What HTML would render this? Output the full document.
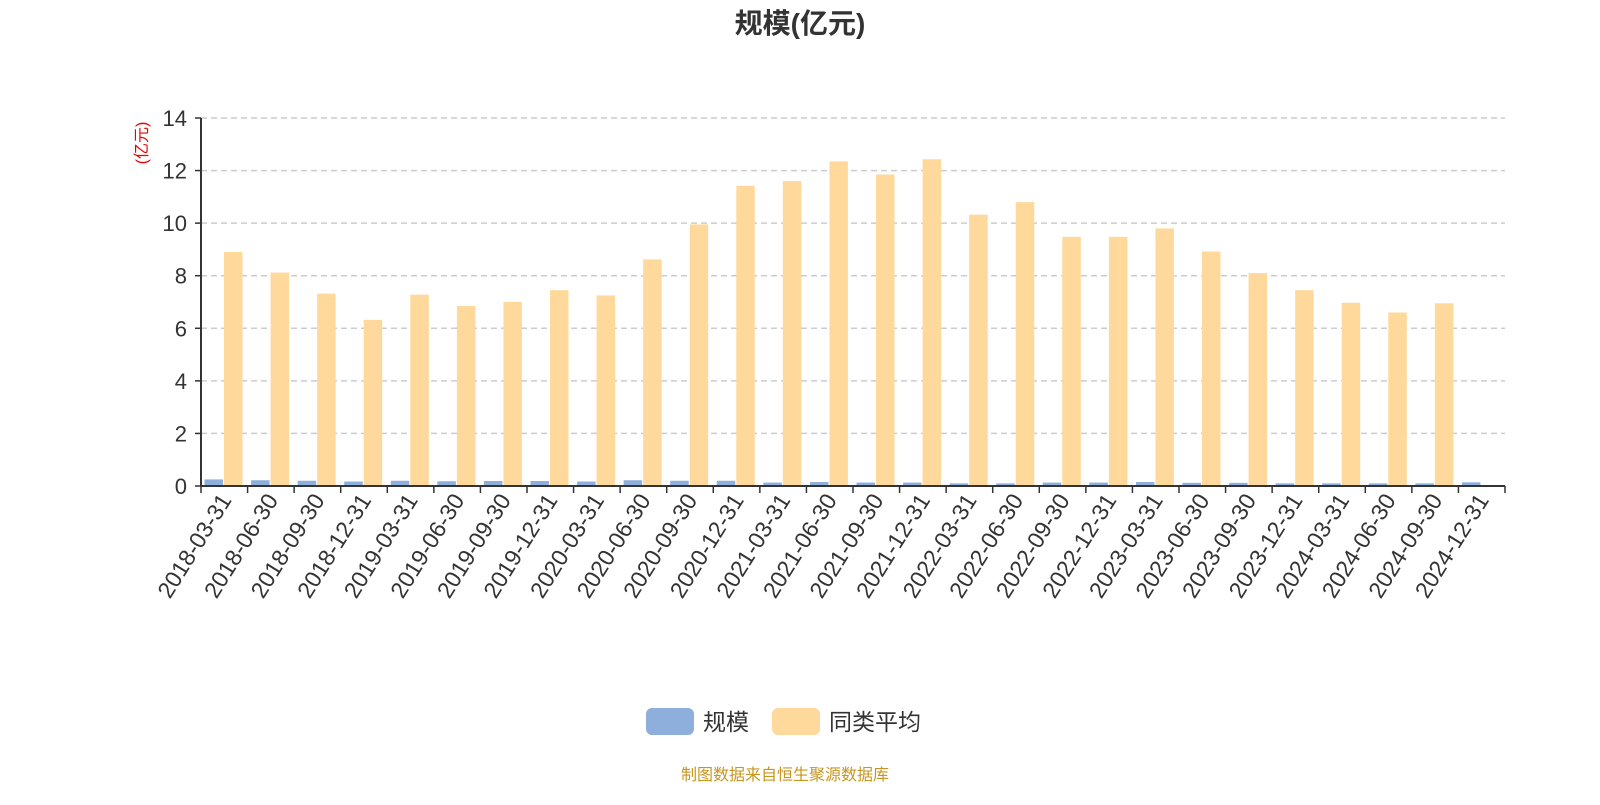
<!DOCTYPE html>
<html><head><meta charset="utf-8"><style>
body{margin:0;background:#fff;font-family:"Liberation Sans","Noto Sans CJK SC",sans-serif;}
</style></head><body>
<svg id="c" width="1600" height="800" xmlns="http://www.w3.org/2000/svg">
<text x="800" y="33" text-anchor="middle" font-size="28" font-weight="bold" fill="#333" font-family="Liberation Sans,Noto Sans CJK SC,sans-serif">规模(亿元)</text>
<text transform="translate(147,143) rotate(-90)" text-anchor="middle" font-size="16" fill="#e00" font-family="Liberation Sans,Noto Sans CJK SC,sans-serif">(亿元)</text>
<g id="grid"></g><g id="bars"></g><g id="axes"></g>
<g>
<rect x="646" y="708" width="48" height="27" rx="6" fill="#8eaedb"/>
<text x="703" y="730" font-size="23" fill="#333" font-family="Liberation Sans,Noto Sans CJK SC,sans-serif">规模</text>
<rect x="772" y="708" width="48" height="27" rx="6" fill="#ffd99b"/>
<text x="829" y="730" font-size="23" fill="#333" font-family="Liberation Sans,Noto Sans CJK SC,sans-serif">同类平均</text>
</g>
<text x="785" y="780" text-anchor="middle" font-size="16" fill="#c8961e" font-family="Liberation Sans,Noto Sans CJK SC,sans-serif">制图数据来自恒生聚源数据库</text>
</svg>
<script>
const categories=["2018-03-31","2018-06-30","2018-09-30","2018-12-31","2019-03-31","2019-06-30","2019-09-30","2019-12-31","2020-03-31","2020-06-30","2020-09-30","2020-12-31","2021-03-31","2021-06-30","2021-09-30","2021-12-31","2022-03-31","2022-06-30","2022-09-30","2022-12-31","2023-03-31","2023-06-30","2023-09-30","2023-12-31","2024-03-31","2024-06-30","2024-09-30","2024-12-31"];
const scaleValues=[0.25,0.22,0.2,0.17,0.2,0.18,0.19,0.19,0.17,0.22,0.2,0.2,0.13,0.15,0.13,0.13,0.1,0.1,0.13,0.13,0.15,0.12,0.12,0.1,0.1,0.1,0.1,0.14];
const avgValues=[8.9,8.12,7.32,6.32,7.28,6.85,7.0,7.45,7.25,8.62,9.95,11.42,11.6,12.35,11.85,12.43,10.32,10.8,9.48,9.48,9.8,8.92,8.1,7.45,6.97,6.6,6.95,null];
const yTicks=[0,2,4,6,8,10,12,14];
const NS="http://www.w3.org/2000/svg";
const X0=201,X1=1505,Y0=486,Y1=118,YMAX=14;
const band=(X1-X0)/categories.length;
const y=v=>Y0-(v/YMAX)*(Y0-Y1);
const bx=i=>X0+i*band;
function mk(tag,attrs,parent){const e=document.createElementNS(NS,tag);for(const k in attrs)e.setAttribute(k,attrs[k]);parent.appendChild(e);return e;}
const grid=document.getElementById('grid'),bars=document.getElementById('bars'),axes=document.getElementById('axes');
yTicks.forEach(t=>{
  if(t>0){const g=mk('line',{x1:X0,x2:X1,y1:y(t),y2:y(t),stroke:'#ccc','stroke-dasharray':'6,4','stroke-width':1.5},grid);
  
  }
  const tk=mk('line',{x1:X0-6,x2:X0,y1:y(t),y2:y(t),stroke:'#333','stroke-width':1.5},axes);
  
  
  const lb=mk('text',{x:X0-14,y:y(t)+8,'text-anchor':'end','font-size':22,fill:'#333'},axes);
  lb.textContent=t;
  
  
});
const bw=18.5;
categories.forEach((c,i)=>{
  const s=scaleValues[i];
  if(s!=null){const r=mk('rect',{x:bx(i)+3.5,y:y(s),width:bw,height:Y0-y(s),fill:'#8eaedb'},bars);
  
  }
  const a=avgValues[i];
  if(a!=null){const r=mk('rect',{x:bx(i)+3.5+bw+1,y:y(a),width:bw,height:Y0-y(a),fill:'#ffd99b'},bars);
  
  }
  const cx=bx(i)+band/2;
  const lb=mk('text',{transform:`translate(${cx+8},${Y0+14}) rotate(-58)`,'text-anchor':'end','font-size':23,fill:'#333'},axes);
  lb.textContent=c;
  
  
});
for(let i=0;i<=categories.length;i++){const t=mk('line',{x1:bx(i),x2:bx(i),y1:Y0,y2:Y0+7,stroke:'#333','stroke-width':1.5},axes);

}
const xa=mk('line',{x1:X0,x2:X1,y1:Y0,y2:Y0,stroke:'#333','stroke-width':2},axes);


const ya=mk('line',{x1:X0,x2:X0,y1:Y1,y2:Y0,stroke:'#333','stroke-width':2},axes);


</script>
</body></html>
